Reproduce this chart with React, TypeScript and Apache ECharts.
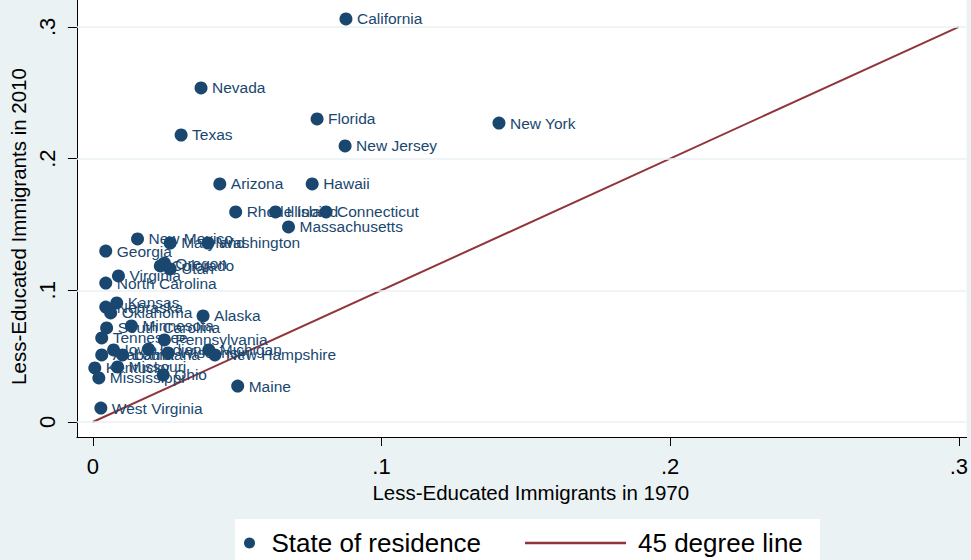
import React, { useEffect, useRef } from "react";
import * as echarts from "echarts";

const states = [
  "California", "Nevada", "Florida", "New York", "Texas", "New Jersey",
  "Arizona", "Hawaii", "Rhode Island", "Illinois", "Connecticut", "Massachusetts",
  "New Mexico", "Maryland", "Washington", "Georgia", "Oregon", "Colorado",
  "Utah", "Virginia", "North Carolina", "Kansas", "Nebraska", "Oklahoma",
  "Alaska", "South Carolina", "Minnesota", "Tennessee", "Pennsylvania", "Iowa",
  "Indiana", "Alabama", "Louisiana", "Wisconsin", "Michigan", "New Hampshire",
  "Kentucky", "Missouri", "Mississippi", "Ohio", "Maine", "West Virginia",
];

const x1970 = [
  0.0877, 0.0375, 0.0777, 0.1407, 0.0306, 0.0874,
  0.044, 0.076, 0.0495, 0.0633, 0.0808, 0.0678,
  0.0155, 0.0268, 0.0399, 0.0045, 0.0248, 0.0234,
  0.0268, 0.0089, 0.0045, 0.0083, 0.0045, 0.0062,
  0.0382, 0.0048, 0.0134, 0.0031, 0.0248, 0.0072,
  0.0193, 0.0031, 0.0103, 0.0261, 0.0402, 0.0423,
  0.0007, 0.0086, 0.0021, 0.0244, 0.0502, 0.0028,
];

const y2010 = [
  0.306, 0.2536, 0.2301, 0.227, 0.2179, 0.2096,
  0.1807, 0.1807, 0.1595, 0.1595, 0.1595, 0.1481,
  0.139, 0.1359, 0.1359, 0.1298, 0.1207, 0.1185,
  0.1162, 0.1109, 0.1055, 0.0904, 0.0873, 0.0828,
  0.0805, 0.0714, 0.0729, 0.0638, 0.0623, 0.0547,
  0.0554, 0.0509, 0.0509, 0.0524, 0.0547, 0.0509,
  0.041, 0.0418, 0.0334, 0.0357, 0.0273, 0.0106,
];

const lineX = [0, 0.3];
const lineY = [0, 0.3];

const tickValues = [0, 0.1, 0.2, 0.3];

const seriesNames = ["State of residence", "45 degree line"];
const xTitle = "Less-Educated Immigrants in 1970";
const yTitle = "Less-Educated Immigrants in 2010";

const NAVY = "#1a476f";
const MAROON = "#90353b";
const BG = "#EAF2F3";
const FONT = "Liberation Sans, Arial, sans-serif";

const fmt = (v: number) => (Math.abs(v) < 1e-9 ? "0" : "." + Math.round(v * 10));

export default function App() {
  const ref = useRef<HTMLDivElement>(null);
  useEffect(() => {
    if (!ref.current) return;
    const chart = echarts.init(ref.current, undefined, { renderer: "svg" });
    const scatterData = states.map((s, i) => ({ name: s, value: [x1970[i], y2010[i]] }));
    const lineData = lineX.map((x, i) => [x, lineY[i]]);
    chart.setOption({
      animation: false,
      backgroundColor: BG,
      textStyle: { fontFamily: FONT },
      grid: {
        left: 75,
        top: 0,
        right: 0,
        bottom: 123,
        show: true,
        backgroundColor: "#ffffff",
        borderWidth: 0,
      },
      graphic: [
        {
          type: "rect",
          shape: { x: 235, y: 519, width: 585, height: 45 },
          style: { fill: "#ffffff" },
          silent: true,
        },
      ],
      legend: [
        {
          data: [{ name: seriesNames[0], icon: "circle" }],
          left: 244,
          top: 530,
          padding: 0,
          itemWidth: 34,
          itemHeight: 11,
          textStyle: { fontSize: 26, color: "#000", fontFamily: FONT },
        },
        {
          data: [{ name: seriesNames[1], icon: "rect" }],
          left: 525,
          top: 530,
          padding: 0,
          itemWidth: 101,
          itemHeight: 2.5,
          textStyle: { fontSize: 26, color: "#000", fontFamily: FONT, padding: [0, 0, 0, 7] },
        },
      ],
      xAxis: {
        type: "value",
        min: -0.0055,
        max: 0.3027,
        name: xTitle,
        nameLocation: "middle",
        nameGap: 45,
        nameTextStyle: { fontSize: 20.5, color: "#000", fontFamily: FONT, padding: [0, 0, 0, 18] },
        axisLine: { show: true, onZero: false, lineStyle: { color: "#000", width: 1 } },
        axisTick: { show: true, customValues: tickValues, length: 9, lineStyle: { color: "#000" } },
        axisLabel: {
          customValues: tickValues,
          formatter: fmt,
          fontSize: 22,
          color: "#000",
          margin: 18,
          fontFamily: FONT,
        },
        splitLine: { show: false },
      },
      yAxis: {
        type: "value",
        min: -0.0114,
        max: 0.3204,
        name: yTitle,
        nameLocation: "middle",
        nameGap: 45,
        nameTextStyle: { fontSize: 20.5, color: "#000", fontFamily: FONT, padding: [0, 16, 0, 0] },
        axisLine: { show: true, onZero: false, lineStyle: { color: "#000", width: 1 } },
        axisTick: { show: true, customValues: tickValues, length: 9, lineStyle: { color: "#000" } },
        axisLabel: {
          customValues: tickValues,
          formatter: fmt,
          fontSize: 22,
          color: "#000",
          margin: 18,
          rotate: 90,
          fontFamily: FONT,
        },
        splitLine: { show: false },
      },
      series: [
        {
          type: "line",
          name: "gridlines",
          data: [],
          z: 1,
          silent: true,
          markLine: {
            silent: true,
            symbol: ["none", "none"],
            label: { show: false },
            lineStyle: { color: BG, width: 1.5, type: "solid" },
            data: tickValues.map((v) => ({ yAxis: v })),
          },
        },
        {
          type: "line",
          name: seriesNames[1],
          data: lineData,
          symbol: "none",
          z: 2,
          lineStyle: { color: MAROON, width: 2 },
          itemStyle: { color: MAROON },
        },
        {
          type: "scatter",
          name: seriesNames[0],
          data: scatterData,
          symbol: "circle",
          symbolSize: 13,
          z: 3,
          itemStyle: { color: NAVY, opacity: 1 },
          label: {
            show: true,
            position: "right",
            distance: 4.5,
            formatter: "{b}",
            fontSize: 15.5,
            color: NAVY,
            fontFamily: FONT,
          },
        },
      ],
    });
    return () => chart.dispose();
  }, []);
  return (
    <div
      ref={ref}
      style={{ position: "absolute", left: 0, top: 0, width: 971, height: 560 }}
    />
  );
}
